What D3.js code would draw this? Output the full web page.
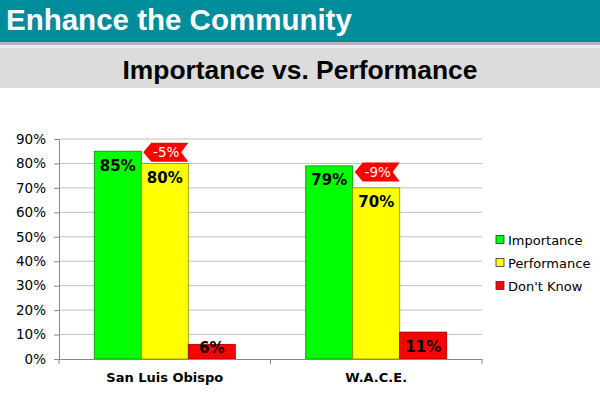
<!DOCTYPE html>
<html>
<head>
<meta charset="utf-8">
<script src="https://cdn.jsdelivr.net/npm/d3@7"></script>
<style>
  body { margin: 0; background: #fff; }
  svg { display: block; }
</style>
</head>
<body>
<div id="chart"></div>
<script>
// data
var sites = ["San Luis Obispo", "W.A.C.E."];
var seriesNames = ["Importance", "Performance", "Don't Know"];
var importance = [85, 79];
var performance = [80, 70];
var dontKnow = [6, 11];
var gaps = ["-5%", "-9%"];
var yTicks = [0, 10, 20, 30, 40, 50, 60, 70, 80, 90];
var colors = ["#00ff00", "#ffff00", "#ff0000"];

var width = 600, height = 400;
var margin = {top: 139, right: 118, bottom: 41, left: 59};

var svg = d3.select("#chart").append("svg")
    .attr("width", width)
    .attr("height", height);

// header bands
svg.append("rect").attr("x", 0).attr("y", 0).attr("width", width).attr("height", 42)
    .attr("fill", "#008d9b");
svg.append("rect").attr("x", 0).attr("y", 42).attr("width", width).attr("height", 3)
    .attr("fill", "#b4b4b4");
svg.append("rect").attr("x", 0).attr("y", 45).attr("width", width).attr("height", 3)
    .attr("fill", "#ececec");
svg.append("rect").attr("x", 0).attr("y", 48).attr("width", width).attr("height", 40)
    .attr("fill", "#dcdcdc");

svg.append("text")
    .attr("x", 6).attr("y", 30)
    .attr("font-family", "Liberation Sans, Arial, sans-serif")
    .attr("font-weight", "bold")
    .attr("font-size", 29.5)
    .attr("fill", "#fff")
    .text("Enhance the Community");

svg.append("text")
    .attr("x", 300).attr("y", 79)
    .attr("text-anchor", "middle")
    .attr("font-family", "Liberation Sans, Arial, sans-serif")
    .attr("font-weight", "bold")
    .attr("font-size", 26.4)
    .attr("fill", "#000")
    .text("Importance vs. Performance");

// scales
var x0 = d3.scaleBand()
    .domain(sites)
    .range([margin.left, width - margin.right])
    .paddingInner(0.333)
    .paddingOuter(0.1667);

var x = d3.scaleBand()
    .domain(seriesNames)
    .range([0, x0.bandwidth()]);

var y = d3.scaleLinear()
    .domain([0, 90])
    .range([height - margin.bottom, margin.top]);

var font = "DejaVu Sans, Verdana, sans-serif";

// grid
svg.append("g")
    .selectAll("line")
    .data(yTicks.slice(1))
    .join("line")
    .attr("x1", margin.left).attr("x2", width - margin.right)
    .attr("y1", d => y(d)).attr("y2", d => y(d))
    .attr("stroke", "#c0c0c0");

// y axis
var yAxis = svg.append("g")
    .attr("transform", `translate(${margin.left},0)`)
    .call(d3.axisLeft(y).tickValues(yTicks).tickFormat(d => d + "%").tickSize(5).tickPadding(8));
yAxis.select(".domain").attr("stroke", "#888");
yAxis.selectAll(".tick line").attr("stroke", "#888");
yAxis.selectAll("text").attr("font-family", font).attr("font-size", 13.5).attr("fill", "#000");

// bars
var rows = sites.map((s, i) => ({site: s, values: [importance[i], performance[i], dontKnow[i]]}));

var groups = svg.append("g")
    .selectAll("g")
    .data(rows)
    .join("g")
    .attr("transform", d => `translate(${x0(d.site)},0)`);

groups.selectAll("rect")
    .data(d => d.values.map((v, j) => ({name: seriesNames[j], value: v, j: j})))
    .join("rect")
    .attr("x", d => x(d.name))
    .attr("y", d => y(d.value))
    .attr("width", x.bandwidth())
    .attr("height", d => y(0) - y(d.value))
    .attr("fill", d => colors[d.j])
    .attr("stroke", d => d3.color(colors[d.j]).darker(1.6))
    .attr("stroke-width", 0.8);

groups.selectAll("text.val")
    .data(d => d.values.map((v, j) => ({name: seriesNames[j], value: v})))
    .join("text")
    .attr("class", "val")
    .attr("x", d => x(d.name) + x.bandwidth() / 2)
    .attr("y", d => Math.min(y(d.value) + 14, y(0) - 11))
    .attr("dy", "0.36em")
    .attr("text-anchor", "middle")
    .attr("font-family", font)
    .attr("font-weight", "bold")
    .attr("font-size", 15)
    .attr("fill", "#000")
    .text(d => d.value + "%");

// x axis
var xAxis = svg.append("g")
    .attr("transform", `translate(0,${y(0)})`)
    .call(d3.axisBottom(x0).tickSize(0).tickPadding(14));
xAxis.select(".domain").attr("stroke", "#888");
xAxis.selectAll("text").attr("font-family", font).attr("font-weight", "bold")
    .attr("font-size", 13).attr("fill", "#000");
xAxis.append("g").selectAll("line")
    .data([margin.left, (margin.left + width - margin.right) / 2, width - margin.right])
    .join("line")
    .attr("x1", d => d).attr("x2", d => d)
    .attr("y1", 0).attr("y2", 5)
    .attr("stroke", "#888");

// gap ribbons
var ribbon = groups.append("g")
    .attr("transform", (d, i) => {
        var cx = x("Performance");
        var cy = (y(importance[i]) + y(performance[i])) / 2 - 5;
        return `translate(${cx + 2},${cy})`;
    });
ribbon.append("path")
    .attr("d", "M0,0 L8,-9.5 L45,-9.5 L38,0 L45,9.5 L8,9.5 Z")
    .attr("fill", "#ff0000");
ribbon.append("text")
    .attr("x", 23).attr("y", 0)
    .attr("dy", "0.36em")
    .attr("text-anchor", "middle")
    .attr("font-family", font)
    .attr("font-size", 13.5)
    .attr("fill", "#fff")
    .text((d, i) => gaps[i]);

// legend
var legend = svg.append("g")
    .selectAll("g")
    .data(seriesNames)
    .join("g")
    .attr("transform", (d, i) => `translate(496,${240 + i * 23})`);
legend.append("rect")
    .attr("x", 0).attr("y", -4.5)
    .attr("width", 8).attr("height", 8)
    .attr("fill", (d, i) => colors[i])
    .attr("stroke", "#333")
    .attr("stroke-width", 0.8);
legend.append("text")
    .attr("x", 12).attr("y", 0)
    .attr("dy", "0.36em")
    .attr("font-family", font)
    .attr("font-size", 13)
    .attr("fill", "#000")
    .text(d => d);
</script>
</body>
</html>
